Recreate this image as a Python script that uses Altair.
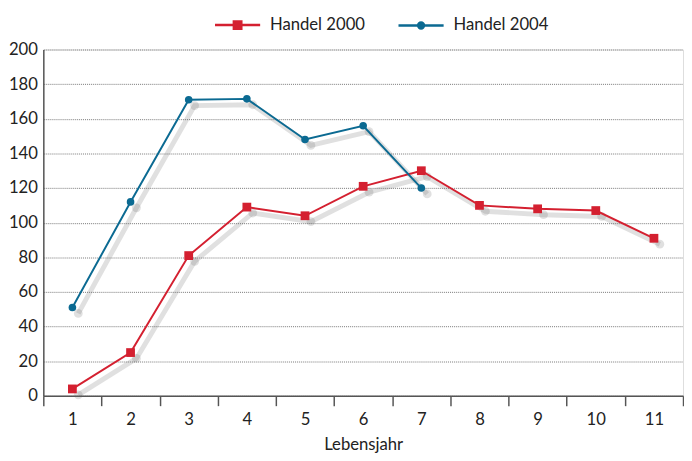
import altair as alt
import pandas as pd

# ---- data ----
jahre = list(range(1, 12))
handel_2000 = [4, 25, 81, 109, 104, 121, 130, 110, 108, 107, 91]
handel_2004 = [51, 112, 171, 171.5, 148, 156, 120]
serien = ["Handel 2000", "Handel 2004"]
farben = ["#d42030", "#0b6a92"]
y_ticks = list(range(0, 201, 20))

rows = []
for j, v in zip(jahre, handel_2000):
    rows.append({"Lebensjahr": j, "Wert": v, "Serie": serien[0]})
for j, v in zip(jahre, handel_2004):
    rows.append({"Lebensjahr": j, "Wert": v, "Serie": serien[1]})
df = pd.DataFrame(rows)

FONT = "Lato, sans-serif"

x_enc = alt.X(
    "Lebensjahr:O",
    sort=jahre,
    scale=alt.Scale(type="band", paddingInner=0, paddingOuter=0),
    axis=alt.Axis(
        title="Lebensjahr", labelAngle=0, tickBand="extent", ticks=True,
        tickSize=10, tickWidth=1.5, tickColor="#555", domainColor="#555",
        domainWidth=1.5, labelPadding=6, titlePadding=10, grid=False,
        labelFontSize=17, titleFontSize=17, labelColor="#222", titleColor="#222",
        labelFont=FONT, titleFont=FONT, titleFontWeight="normal",
    ),
)
y_enc = alt.Y(
    "Wert:Q",
    scale=alt.Scale(domain=[0, 200], nice=False),
    axis=alt.Axis(
        title=None, values=y_ticks, grid=True, gridDash=[1, 1],
        gridColor="#777", gridWidth=1, ticks=False, labelPadding=6,
        domainColor="#555", domainWidth=1.5, labelFontSize=17,
        labelColor="#222", labelFont=FONT,
    ),
)

# legend symbols: a line with the series marker in its middle
path_sq = "M-2,0H2M-0.33,-0.33H0.33V0.33H-0.33Z"
path_ci = "M-2,0H2M0.26,0A0.26,0.26,0,1,1,-0.26,0A0.26,0.26,0,1,1,0.26,0Z"

leg = alt.Legend(
    title=None, orient="none", legendX=185, legendY=-38, direction="horizontal",
    labelFont=FONT, labelFontSize=17, labelColor="#222", symbolSize=529,
    symbolStrokeWidth=2.5, labelOffset=20, columnPadding=29, padding=0,
)
color_enc = alt.Color("Serie:N", scale=alt.Scale(domain=serien, range=farben), legend=leg)

base = alt.Chart(df).encode(x=x_enc, y=y_enc)

shadow_line = base.mark_line(
    color="#666", opacity=0.2, strokeWidth=5, xOffset=6, yOffset=6
).encode(detail="Serie:N")
shadow_pts = base.mark_circle(
    color="#666", opacity=0.2, size=80, xOffset=6, yOffset=6
)

line = base.mark_line(strokeWidth=2).encode(color=color_enc)
pts_2000 = base.mark_point(shape="square", filled=True, size=80, opacity=1).encode(
    color=color_enc
).transform_filter(alt.datum.Serie == serien[0])
pts_2004 = base.mark_point(shape="circle", filled=True, size=60, opacity=1).encode(
    color=color_enc
).transform_filter(alt.datum.Serie == serien[1])

legend_layer = base.mark_point(filled=True, strokeWidth=2.5).encode(
    color=color_enc,
    stroke=alt.Stroke("Serie:N", scale=alt.Scale(domain=serien, range=farben), legend=leg),
    shape=alt.Shape("Serie:N", scale=alt.Scale(domain=serien, range=[path_sq, path_ci]), legend=leg),
).transform_filter(alt.datum.Wert < 0)

chart = alt.layer(
    shadow_line, shadow_pts, line, pts_2000, pts_2004, legend_layer
).properties(
    width=652, height=353,
    padding=0,
).configure_view(
    stroke=None,
    fill="#e8e9eb",
).configure(background="white")

chart.save("out.html", embed_options={"renderer": "svg", "actions": False})
